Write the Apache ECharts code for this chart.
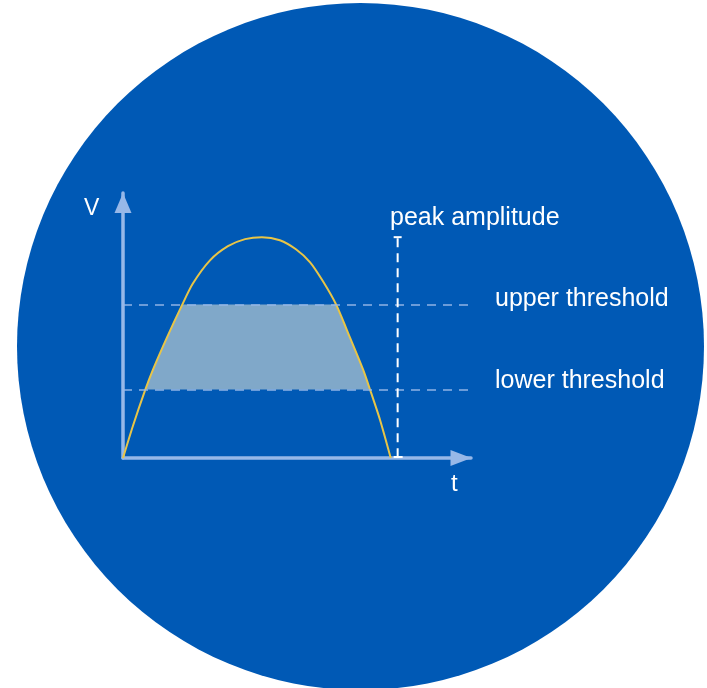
<!DOCTYPE html>
<html>
<head>
<meta charset="utf-8">
<script src="https://cdn.jsdelivr.net/npm/echarts@6/dist/echarts.min.js"></script>
<style>html,body{margin:0;padding:0;background:#fff;}#c{width:707px;height:688px;}</style>
</head>
<body>
<div id="c"></div>
<script>
// Curve (t, V)
var curveT = [0, 3.7, 8.2, 11.2, 16.4, 22.0, 26.1, 32.5, 39.2, 45.6, 51.9, 58.6, 64.6, 69.9, 74.7, 79.6, 84.8, 89.7, 92.3, 96.0, 100];
var curveV = [0, 14.5, 30.5, 40, 54.5, 69.1, 79.0, 89.5, 95.9, 99.1, 100, 98.6, 94.5, 88.6, 80, 69.5, 54.5, 40, 30.9, 17.3, 0];
// Shaded band between thresholds (outline)
var bandT = [8.3, 11.2, 16.4, 22.0, 22.2, 79.4, 84.8, 89.7, 92.3];
var bandV = [31, 40, 54.5, 69.1, 69.5, 69.5, 54.5, 40, 31];
var upperThreshold = 69.5;
var lowerThreshold = 31;
var peakT = 102.6;
var peakV = 100;
var labels = {v: 'V', t: 't', peak: 'peak amplitude', upper: 'upper threshold', lower: 'lower threshold'};

var curveData = curveT.map(function (t, i) { return [t, curveV[i]]; });
var bandData = bandT.map(function (t, i) { return [t, bandV[i]]; });

var axisColor = '#97b8e8';
var font = '"Liberation Sans", Arial, sans-serif';
var chart = echarts.init(document.getElementById('c'));
chart.setOption({
  backgroundColor: '#ffffff',
  animation: false,
  grid: {left: 123, top: 193, width: 348, height: 265, containLabel: false},
  xAxis: {
    type: 'value', min: 0, max: 130,
    axisLine: {show: true, symbol: ['none', 'triangle'], symbolSize: [16, 21], symbolOffset: [0, -10],
      lineStyle: {color: axisColor, width: 3.5}},
    axisTick: {show: false}, axisLabel: {show: false}, splitLine: {show: false}
  },
  yAxis: {
    type: 'value', min: 0, max: 120,
    axisLine: {show: true, symbol: ['none', 'triangle'], symbolSize: [17, 20], symbolOffset: [0, -10],
      lineStyle: {color: axisColor, width: 3.5}},
    axisTick: {show: false}, axisLabel: {show: false}, splitLine: {show: false}
  },
  graphic: [
    {type: 'circle', shape: {cx: 360.5, cy: 346.5, r: 343.5}, style: {fill: '#0059b5'}, z: -10, silent: true},
    {type: 'text', left: 84, top: 197, style: {text: labels.v, fill: '#ffffff', font: '23px ' + font}, z: 10},
    {type: 'text', left: 451, top: 472, style: {text: labels.t, fill: '#ffffff', font: '24px ' + font}, z: 10},
    {type: 'text', left: 390, top: 206, style: {text: labels.peak, fill: '#ffffff', font: '25px ' + font}, z: 10},
    {type: 'text', left: 495, top: 287, style: {text: labels.upper, fill: '#ffffff', font: '25px ' + font}, z: 10},
    {type: 'text', left: 495, top: 369, style: {text: labels.lower, fill: '#ffffff', font: '25px ' + font}, z: 10}
  ],
  series: [
    {
      type: 'custom', name: 'band', data: [0], z: 2,
      renderItem: function (params, api) {
        var pts = bandData.map(function (p) { return api.coord(p); });
        return {type: 'polygon', shape: {points: pts, smooth: 0}, style: {fill: '#80a8c9'}};
      }
    },
    {
      type: 'line', name: 'thresholds', data: [], z: 3,
      markLine: {
        silent: true, symbol: ['none', 'none'], label: {show: false},
        lineStyle: {color: axisColor, width: 1.5, type: [9, 7], opacity: 0.95},
        data: [{yAxis: upperThreshold}, {yAxis: lowerThreshold}]
      }
    },
    {
      type: 'line', name: 'curve', data: curveData, smooth: 0.25, showSymbol: false, z: 4,
      lineStyle: {color: '#e8c547', width: 2}
    },
    {
      type: 'custom', name: 'peak', data: [[peakT, peakV]], z: 5,
      renderItem: function (params, api) {
        var top = api.coord([peakT, peakV]);
        var bot = api.coord([peakT, 0]);
        var st = {stroke: '#ffffff', lineWidth: 2};
        return {type: 'group', children: [
          {type: 'line', shape: {x1: top[0], y1: top[1] + 1, x2: bot[0], y2: bot[1]}, style: {stroke: '#ffffff', lineWidth: 2, lineDash: [9, 6]}},
          {type: 'line', shape: {x1: top[0] - 4, y1: top[1], x2: top[0] + 4, y2: top[1]}, style: st},
          {type: 'line', shape: {x1: bot[0] - 4, y1: bot[1] - 1, x2: bot[0] + 5, y2: bot[1] - 1}, style: st}
        ]};
      }
    }
  ]
});
</script>
</body>
</html>
